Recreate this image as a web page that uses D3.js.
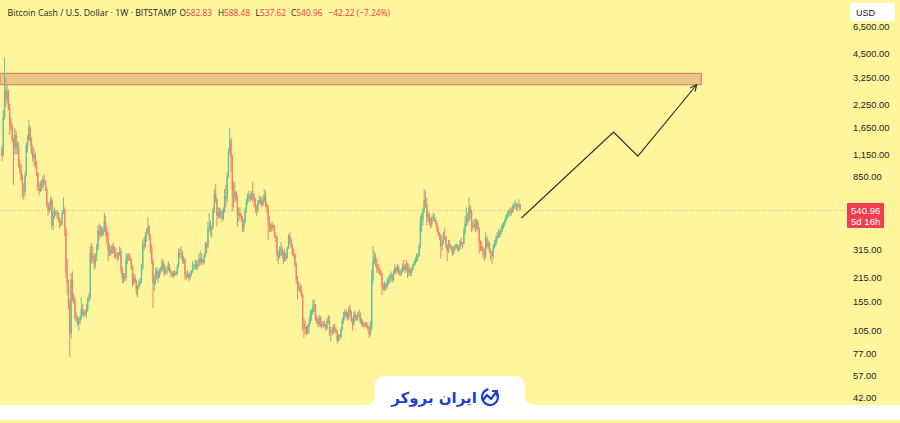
<!DOCTYPE html>
<html><head><meta charset="utf-8">
<script src="https://cdn.jsdelivr.net/npm/d3@7"></script>
<style>html,body{margin:0;padding:0;background:#fff59d;overflow:hidden}</style>
</head><body>
<svg id="c" width="900" height="423"></svg>
<script>
// ---------- DATA (weekly candles [high, low, close]; open = previous close) ----------
const firstOpen = 1250;
const weeks2017 = [[1300,1050,1130],[2100,1120,1900],[4300,1850,2750],[3300,2200,2450]];
const weeks2018 = [[2950,2300,2700],[2800,2100,2150],[2300,1500,1750],[1900,1600,1680],[1750,1350,1400],[1450,760,1280],[1650,1150,1500],[1600,1150,1250],[1380,1150,1270],[1350,960,1000],[1080,880,920],[1000,800,820],[880,640,700],[780,620,690],[900,650,860],[1350,850,1300],[1500,1180,1400],[1840,1380,1650],[1700,1300,1380],[1450,1150,1200],[1300,1050,1100],[1250,980,1150],[1180,950,1000],[1050,860,900],[900,700,720],[780,660,700],[800,690,760],[820,700,740],[860,720,820],[880,760,800],[810,700,720],[740,560,580],[600,500,540],[600,520,560],[650,540,620],[640,420,440],[540,410,500],[560,480,520],[540,500,515],[540,480,520],[530,460,480],[490,420,450],[470,430,445],[540,440,520],[640,510,540],[560,380,420],[430,215,230],[280,170,200],[210,140,150],[160,73,100],[230,95,210],[235,155,165]];
const weeks2019 = [[175,150,158],[165,120,125],[135,118,125],[128,112,115],[125,105,120],[130,115,125],[165,122,140],[150,128,130],[140,125,135],[140,128,132],[150,125,140],[165,135,160],[175,155,165],[330,160,300],[345,260,290],[330,265,280],[300,240,260],[300,245,290],[340,270,320],[440,315,410],[450,360,390],[440,380,420],[430,370,385],[430,380,415],[520,400,460],[500,380,410],[430,340,355],[400,270,310],[340,290,310],[330,290,300],[340,295,330],[345,300,315],[330,280,300],[320,280,290],[305,270,285],[305,275,300],[330,290,310],[320,230,240],[250,200,215],[230,200,220],[230,205,215],[300,205,280],[300,260,290],[300,270,285],[300,270,275],[280,240,250],[255,190,200],[230,195,215],[225,200,205],[210,170,180],[195,165,190],[210,185,200]];
const weeks2020 = [[215,195,205],[260,200,245],[360,240,340],[370,310,330],[400,320,380],[420,350,400],[490,390,430],[440,360,380],[390,300,320],[340,260,270],[280,142,200],[225,180,210],[245,195,225],[250,210,235],[240,200,215],[245,215,235],[250,225,240],[280,235,265],[275,230,240],[260,220,240],[250,225,235],[255,225,240],[270,235,250],[260,230,235],[240,220,230],[235,215,220],[235,215,225],[240,220,230],[235,220,225],[260,225,250],[320,245,300],[320,280,295],[330,280,300],[310,260,270],[290,260,275],[280,210,225],[235,210,220],[240,215,225],[230,205,215],[235,210,225],[240,220,235],[270,230,250],[260,240,250],[275,240,260],[275,240,250],[270,240,260],[300,250,280],[310,255,270],[300,260,275],[280,255,265],[300,260,290],[350,285,340],[350,300,330]];
const weeks2021 = [[460,320,420],[520,400,430],[470,380,410],[440,370,430],[560,420,540],[720,520,670],[770,600,630],[640,430,500],[560,480,520],[560,480,510],[550,480,530],[540,460,480],[560,470,540],[720,520,650],[760,560,630],[900,600,850],[1250,840,1200],[1650,1150,1400],[1450,900,1100],[1150,530,700],[800,560,650],[780,600,690],[700,600,620],[660,430,500],[560,460,520],[560,480,500],[520,460,480],[500,400,420],[480,400,460],[560,450,540],[630,520,600],[680,580,660],[700,610,640],[680,600,640],[700,620,680],[790,600,650],[680,560,620],[640,520,560],[580,500,540],[620,520,600],[660,580,620],[650,580,600],[640,560,580],[660,570,620],[720,600,660],[700,560,580],[600,520,560],[580,360,470],[500,400,430],[450,400,420],[460,400,440],[450,410,430]];
const weeks2022 = [[440,370,380],[400,350,370],[380,270,290],[310,260,290],[330,280,310],[350,290,320],[330,280,290],[310,260,270],[320,270,300],[300,270,280],[330,280,320],[390,320,380],[400,340,360],[370,320,330],[340,290,300],[320,285,295],[300,250,255],[265,200,210],[220,160,190],[205,180,190],[200,175,180],[195,165,170],[175,105,115],[125,95,110],[120,100,108],[112,98,102],[115,100,110],[125,100,115],[140,115,130],[140,120,135],[160,130,145],[160,135,150],[150,120,125],[130,115,120],[125,110,115],[130,110,125],[128,110,115],[120,108,112],[120,108,115],[120,110,112],[115,105,108],[125,105,120],[130,115,120],[128,98,102],[110,90,105],[110,98,104],[115,100,110],[115,102,106],[110,100,104],[106,88,92],[100,90,96],[100,92,97]];
const weeks2023 = [[110,95,108],[125,105,120],[135,115,128],[140,122,135],[140,125,130],[135,120,125],[145,122,140],[150,128,135],[138,118,120],[125,105,115],[135,112,130],[138,120,125],[130,120,125],[135,120,128],[140,125,130],[135,115,118],[125,112,118],[122,110,114],[118,108,112],[118,110,114],[118,108,112],[116,105,110],[112,95,100],[120,98,110],[240,105,210],[330,200,270],[310,260,285],[300,250,260],[280,230,245],[260,230,240],[250,225,235],[240,220,225],[230,170,190],[200,180,185],[205,180,195],[200,180,190],[215,185,205],[220,195,210],[225,200,215],[235,205,225],[225,200,210],[240,205,230],[260,225,245],[250,225,235],[260,230,250],[255,225,230],[240,220,225],[245,220,235],[260,230,250],[275,235,240],[260,230,255],[275,235,245]];
const weeks2024 = [[265,215,230],[260,220,240],[250,220,230],[245,220,240],[260,235,255],[270,245,260],[285,255,275],[300,265,285],[300,270,290],[340,285,330],[500,320,460],[520,400,480],[560,440,540],[720,520,620],[700,560,580],[640,440,490],[540,460,510],[520,440,460],[490,420,450],[500,430,480],[520,460,490],[510,460,470],[480,440,450],[460,400,420],[430,380,390],[400,360,380],[390,280,330],[360,310,350],[400,340,380],[420,360,370],[380,320,330],[340,270,310],[360,300,340],[360,320,330],[340,310,320],[330,290,300],[330,295,320],[340,310,330],[345,320,335],[340,310,315],[335,305,320],[360,315,350],[370,330,345],[350,320,340],[420,340,400],[500,390,450],[560,430,480],[520,440,470],[640,460,560],[580,480,520],[540,400,440],[470,410,430],[480,420,450]];
const weeks2025 = [[480,400,420],[480,410,460],[470,400,420],[430,300,350],[360,310,330],[350,310,320],[330,280,300],[320,270,290],[400,280,370],[380,320,330],[360,320,340],[350,300,310],[320,275,300],[310,260,290],[340,280,330],[360,320,340],[380,330,360],[400,350,380],[420,370,395],[410,370,390],[430,380,410],[450,400,440],[460,420,450],[480,430,470],[510,460,500],[530,480,510],[540,490,520],[560,500,540],[560,500,520],[580,520,560],[600,540,580],[620,550,590],[600,540,560],[590,530,570],[625,560,582.83],[588.48,537.62,540.96]];

const priceTicks = [6500,4500,3250,2250,1650,1150,850,600,450,315,215,155,105,77,57,42];
const zonePrices = [2965, 3460];
const zoneIdx = [-1.6, 546.6];
const projIdx = [406, 478, 497, 543];
const projPrice = [485, 1560, 1125, 2965];
const lastPrice = 540.96;
const countdown = "5d 16h";
const titleText = "Bitcoin Cash / U.S. Dollar · 1W · BITSTAMP";
const ohlcKeys = ["O","H","L","C"];
const ohlcVals = ["582.83","588.48","537.62","540.96"];
const changeText = "−42.22 (−7.24%)";
const currency = "USD";
const brandText = "ایران بروکر";

// ---------- BUILD ----------
const rows = [].concat(weeks2017, weeks2018, weeks2019, weeks2020, weeks2021, weeks2022, weeks2023, weeks2024, weeks2025);
let prevClose = firstOpen;
const candles = rows.map((r, i) => { const o = prevClose; prevClose = r[2]; return {i, o, h: r[0], l: r[1], c: r[2]}; });

const svg = d3.select("#c");
const W = 900, H = 423;
const x = d3.scaleLinear().domain([0, 655]).range([2, 840]);
const y = d3.scaleLog().domain([42, 6500]).range([398, 27]);

svg.append("rect").attr("width", W).attr("height", H).attr("fill", "#fff59d");

// zone
svg.append("rect")
  .attr("x", x(zoneIdx[0])).attr("y", y(zonePrices[1]))
  .attr("width", x(zoneIdx[1]) - x(zoneIdx[0]))
  .attr("height", y(zonePrices[0]) - y(zonePrices[1]))
  .attr("fill", "#e7c985").attr("stroke", "#e0735c").attr("stroke-width", 1);

// last price dotted line
svg.append("line").attr("x1", 0).attr("x2", 847)
  .attr("y1", Math.round(y(lastPrice)) + 0.5).attr("y2", Math.round(y(lastPrice)) + 0.5)
  .attr("stroke", "#f4a88c").attr("stroke-width", 1).attr("stroke-dasharray", "1,2");

// candles
const up = "#68c095", dn = "#f3836a";
const g = svg.append("g");
g.selectAll("line.w").data(candles).enter().append("line")
  .attr("x1", d => x(d.i)).attr("x2", d => x(d.i))
  .attr("y1", d => y(d.h)).attr("y2", d => y(d.l))
  .attr("stroke", d => d.c >= d.o ? up : dn).attr("stroke-width", 1);
g.selectAll("rect.b").data(candles).enter().append("rect")
  .attr("x", d => x(d.i) - 0.7).attr("width", 1.4)
  .attr("y", d => y(Math.max(d.o, d.c)))
  .attr("height", d => Math.max(1, y(Math.min(d.o, d.c)) - y(Math.max(d.o, d.c))))
  .attr("fill", d => d.c >= d.o ? up : dn);

// projection arrow
const pts = projIdx.map((v, k) => [x(v), y(projPrice[k])]);
svg.append("path").attr("d", d3.line()(pts)).attr("fill", "none")
  .attr("stroke", "#2a2a2a").attr("stroke-width", 1.1);
{
  const [a, b] = [pts[pts.length - 2], pts[pts.length - 1]];
  const ang = Math.atan2(b[1] - a[1], b[0] - a[0]);
  const L = 7, sp = 0.45;
  const p1 = [b[0] - L * Math.cos(ang - sp), b[1] - L * Math.sin(ang - sp)];
  const p2 = [b[0] - L * Math.cos(ang + sp), b[1] - L * Math.sin(ang + sp)];
  svg.append("path").attr("d", d3.line()([p1, b, p2])).attr("fill", "none")
    .attr("stroke", "#2a2a2a").attr("stroke-width", 1.1);
}

// y axis labels (the 450 label is hidden under the last-price tag, as in the source)
const fmt = d3.format(",.2f");
const axisFont = "'Liberation Sans', Arial, sans-serif";
const ly = y(lastPrice);
svg.append("g").selectAll("text").data(priceTicks.filter(v => Math.abs(y(v) - ly - 5) > 14)).enter().append("text")
  .attr("x", 853).attr("y", d => y(d)).attr("dy", "0.35em")
  .attr("font-family", axisFont).attr("font-size", 9.4).attr("fill", "#1c1c1c")
  .text(d => fmt(d));

// last price label
svg.append("rect").attr("x", 847).attr("y", ly - 7).attr("width", 37).attr("height", 25)
  .attr("fill", "#f23c4f").attr("rx", 1);
svg.append("text").attr("x", 851).attr("y", ly + 4).attr("font-family", axisFont)
  .attr("font-size", 9.6).attr("fill", "#fff").text(lastPrice.toFixed(2));
svg.append("text").attr("x", 851).attr("y", ly + 15.5).attr("font-family", axisFont)
  .attr("font-size", 9.6).attr("fill", "#fff").text(countdown);

// currency box
svg.append("rect").attr("x", 850).attr("y", 3).attr("width", 45).attr("height", 18)
  .attr("rx", 3).attr("fill", "#fff");
svg.append("text").attr("x", 856).attr("y", 15.5).attr("font-family", axisFont)
  .attr("font-size", 9).attr("fill", "#1c1c1c").text(currency);

// header
const hdrFont = "'Open Sans', 'Liberation Sans', sans-serif";
const hdr = svg.append("g").attr("font-family", hdrFont);
hdr.append("text").attr("x", 7.5).attr("y", 16).attr("fill", "#1c1c1c").attr("font-size", 8.9)
  .attr("textLength", 169).attr("lengthAdjust", "spacingAndGlyphs").text(titleText);
const keyX = [179.5, 218, 255.5, 291];
const itemW = [32.5, 32, 30.5, 31.5];
ohlcKeys.forEach((k, j) => {
  const t = hdr.append("text").attr("x", keyX[j]).attr("y", 16).attr("font-size", 9.5)
    .attr("fill", "#1c1c1c").attr("textLength", itemW[j]).attr("lengthAdjust", "spacingAndGlyphs");
  t.append("tspan").text(k);
  t.append("tspan").attr("fill", "#f23645").text(ohlcVals[j]);
});
hdr.append("text").attr("x", 328.5).attr("y", 16).attr("fill", "#f23645").attr("font-size", 9.5)
  .attr("textLength", 61.5).attr("lengthAdjust", "spacingAndGlyphs").text(changeText);

// bottom strip and watermark tab
svg.append("rect").attr("x", 0).attr("y", 405).attr("width", W).attr("height", 15).attr("fill", "#fff");
svg.append("path").attr("fill", "#fff")
  .attr("d", "M364,405 Q375,405 375,395 L375,387 Q375,376 386,376 L514,376 Q525,376 525,387 L525,395 Q525,405 536,405 Z");
svg.append("text").attr("x", 434).attr("y", 403).attr("text-anchor", "middle")
  .attr("font-family", "'DejaVu Sans', sans-serif").attr("font-weight", "bold")
  .attr("font-size", 15).attr("fill", "#1b3fd0").attr("direction", "rtl").text(brandText);
// logo
const lg = svg.append("g").attr("fill", "none").attr("stroke", "#1b3fd0").attr("stroke-width", 2.2)
  .attr("stroke-linecap", "round").attr("stroke-linejoin", "round");
lg.append("path").attr("d", d3.arc()({innerRadius: 8, outerRadius: 8, startAngle: 0.9, endAngle: 2 * Math.PI - 0.3}))
  .attr("transform", "translate(490,397)");
lg.append("path").attr("d", "M483,400 L487,395 L491,399 L497,391");
lg.append("path").attr("d", "M493,391 L497,391 L497,395");
</script>
</body></html>
